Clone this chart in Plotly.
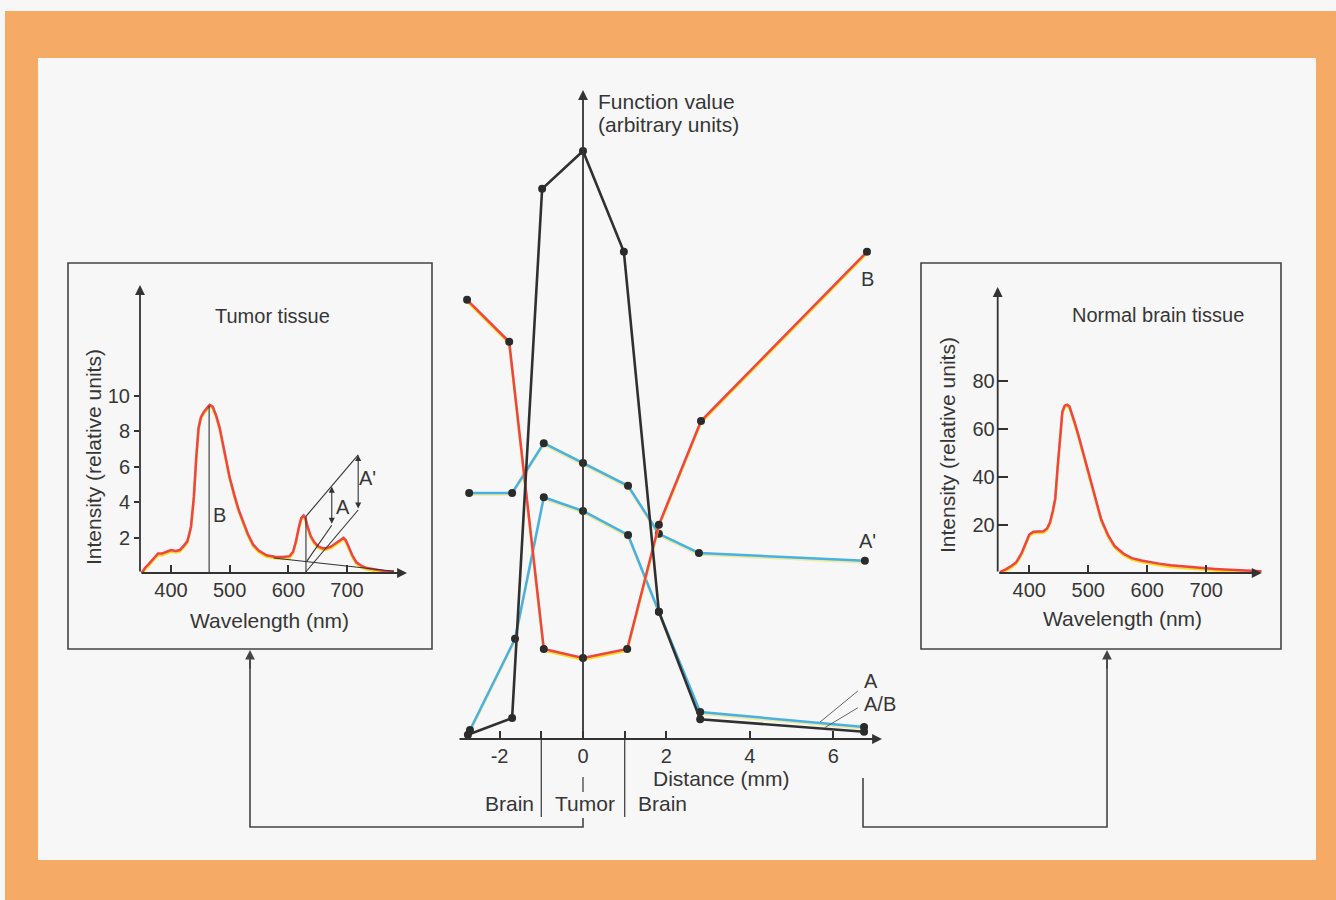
import plotly.graph_objects as go

# ---------------- data ----------------
# centre panel: distance (mm) and function value (arbitrary units)
dist_B = [-2.78, -1.77, -0.94, 0.0, 1.06, 1.82, 2.83, 6.81]
val_B = [73.2, 66.2, 15.0, 13.5, 15.0, 35.7, 53.0, 81.2]

dist_Ap = [-2.73, -1.70, -0.94, 0.0, 1.08, 1.82, 2.78, 6.76]
val_Ap = [41.0, 41.0, 49.3, 46.0, 42.2, 34.2, 31.0, 29.7]

dist_A = [-2.71, -1.63, -0.94, 0.0, 1.08, 1.82, 2.81, 6.74]
val_A = [1.5, 16.7, 40.3, 38.0, 34.0, 21.2, 4.5, 2.0]

dist_AB = [-2.76, -1.70, -0.98, 0.0, 0.98, 1.82, 2.81, 6.74]
val_AB = [0.7, 3.5, 91.7, 98.0, 81.2, 21.2, 3.3, 1.2]

dist_ticks = [-2, -1, 0, 1, 2, 4, 6]
dist_ticktext = ["-2", "", "0", "", "2", "4", "6"]

# tumor tissue spectrum
tumor_nm = [350, 356, 362, 370, 378, 385, 393, 400, 408, 415, 422, 428, 434, 439, 443,
            447, 451, 456, 461, 466, 471, 477, 483, 489, 495, 500, 508, 515, 523, 531,
            540, 550, 563, 577, 591, 602, 608, 613, 618, 622, 626, 629, 633, 638, 644,
            651, 658, 665, 673, 682, 689, 694, 698, 703, 709, 716, 725, 734, 748, 762, 780]
tumor_int = [0.0, 0.3, 0.5, 0.8, 1.1, 1.1, 1.2, 1.3, 1.25, 1.3, 1.55, 1.8, 2.6, 4.3, 6.5,
             8.2, 8.8, 9.1, 9.3, 9.5, 9.4, 8.9, 8.2, 7.2, 6.2, 5.4, 4.4, 3.6, 2.9, 2.2,
             1.6, 1.25, 1.0, 0.92, 0.9, 0.95, 1.2, 1.8, 2.6, 3.1, 3.25, 3.1, 2.6, 2.1, 1.75,
             1.5, 1.4, 1.4, 1.5, 1.7, 1.85, 1.98, 1.85, 1.45, 1.0, 0.6, 0.4, 0.28, 0.2, 0.12, 0.08]
tumor_ticks = [2, 4, 6, 8, 10]

# normal brain tissue spectrum
normal_nm = [350, 360, 370, 378, 387, 394, 400, 407, 415, 424, 430, 435, 440, 444, 448,
             452, 456, 460, 464, 468, 472, 477, 483, 490, 500, 510, 522, 534, 545, 560,
             574, 590, 602, 620, 640, 658, 680, 700, 715, 740, 765, 794]
normal_int = [0.4, 1.5, 3.0, 4.5, 8.3, 12.5, 16.0, 17.2, 17.3, 17.4, 18.5, 21.0, 26.0, 31.0, 44.0,
              57.0, 67.0, 69.6, 70.0, 69.3, 66.5, 62.5, 57.5, 51.0, 41.6, 33.0, 22.2, 15.5, 11.1, 8.0,
              6.2, 5.2, 4.8, 3.9, 3.2, 2.8, 2.2, 1.9, 1.7, 1.3, 1.0, 0.7]
normal_ticks = [20, 40, 60, 80]
wave_ticks = [400, 500, 600, 700]

# annotation geometry in the tumor spectrum (nm, intensity)
B_nm, B_top = 465, 9.45
peak_nm, peak_top = 630, 3.2
A_nm, Ap_nm = 674, 719

# ---------------- layout helpers ----------------
W, H = 1336, 900
FONT = "Liberation Sans, Arial, Helvetica, sans-serif"
TXT = "#363636"
LINE = "#333333"
RED = "#EF4446"
YEL = "#F2DE1A"
CYAN = "#48B0E2"
PALE = "#EEEBA0"


def PX(x):
    return x / W


def PY(y):
    return 1 - y / H


# centre axes mapping (pixels)
CX0, CXS = 583, 41.7
CY0, CYS = 739, 6.0
cx_rng = [(458 - CX0) / CXS, (882 - CX0) / CXS]
cy_rng = [0, (CY0 - 85) / CYS]

# left inset mapping
L_x_rng = [347.2, 802.2]
L_y_rng = [0, (573 - 285) / 17.7]
# right inset mapping
R_x_rng = [346.4, 794.0]
R_y_rng = [0, (573 - 287) / 2.405]

fig = go.Figure()


def shifted(vals, px, scale):
    return [v - px / scale for v in vals]


# ----- centre traces -----
for xs, ys, col, sh in [(dist_Ap, val_Ap, CYAN, PALE), (dist_A, val_A, CYAN, PALE),
                        (dist_B, val_B, RED, YEL)]:
    fig.add_trace(go.Scatter(x=xs, y=shifted(ys, 1.6, CYS), mode="lines",
                             line=dict(color=sh, width=2.5), xaxis="x", yaxis="y",
                             hoverinfo="skip", showlegend=False))
    fig.add_trace(go.Scatter(x=xs, y=ys, mode="lines+markers",
                             line=dict(color=col, width=2.5),
                             marker=dict(color="#2b2b2b", size=8), xaxis="x", yaxis="y",
                             showlegend=False))
fig.add_trace(go.Scatter(x=dist_AB, y=val_AB, mode="lines+markers",
                         line=dict(color="#303030", width=2.6),
                         marker=dict(color="#2b2b2b", size=8), xaxis="x", yaxis="y",
                         showlegend=False))

# ----- inset spectra -----
fig.add_trace(go.Scatter(x=tumor_nm, y=shifted(tumor_int, 1.6, 17.7), mode="lines",
                         line=dict(color=YEL, width=2.5), xaxis="x2", yaxis="y2",
                         hoverinfo="skip", showlegend=False))
fig.add_trace(go.Scatter(x=tumor_nm, y=tumor_int, mode="lines",
                         line=dict(color=RED, width=2.5), xaxis="x2", yaxis="y2",
                         showlegend=False))
fig.add_trace(go.Scatter(x=normal_nm, y=shifted(normal_int, 1.6, 2.405), mode="lines",
                         line=dict(color=YEL, width=2.5), xaxis="x3", yaxis="y3",
                         hoverinfo="skip", showlegend=False))
fig.add_trace(go.Scatter(x=normal_nm, y=normal_int, mode="lines",
                         line=dict(color=RED, width=2.5), xaxis="x3", yaxis="y3",
                         showlegend=False))

tickfont = dict(family=FONT, size=20, color=TXT)
fig.update_layout(
    width=W, height=H, margin=dict(l=0, r=0, t=0, b=0),
    paper_bgcolor="#F7F7F7", plot_bgcolor="rgba(0,0,0,0)",
    xaxis=dict(domain=[PX(458), PX(882)], range=cx_rng, anchor="y", showgrid=False,
               zeroline=False, showline=False, ticks="inside", ticklen=8, tickwidth=1.5,
               tickcolor=LINE, tickvals=dist_ticks, ticktext=dist_ticktext,
               tickfont=tickfont, ticklabelstandoff=3),
    yaxis=dict(domain=[PY(CY0), PY(85)], range=cy_rng, anchor="x", visible=False),
    xaxis2=dict(domain=[PX(140), PX(407)], range=L_x_rng, anchor="y2", showgrid=False,
                zeroline=False, showline=False, ticks="inside", ticklen=8, tickwidth=1.5,
                tickcolor=LINE, tickvals=wave_ticks, tickfont=tickfont, ticklabelstandoff=3),
    yaxis2=dict(domain=[PY(573), PY(285)], range=L_y_rng, anchor="x2", showgrid=False,
                zeroline=False, showline=False, ticks="outside", ticklen=5, tickwidth=1.5,
                tickcolor=LINE, tickvals=tumor_ticks, tickfont=tickfont, ticklabelstandoff=0),
    xaxis3=dict(domain=[PX(997.7), PX(1261.7)], range=R_x_rng, anchor="y3", showgrid=False,
                zeroline=False, showline=False, ticks="inside", ticklen=8, tickwidth=1.5,
                tickcolor=LINE, tickvals=wave_ticks, tickfont=tickfont, ticklabelstandoff=3),
    yaxis3=dict(domain=[PY(573), PY(287)], range=R_y_rng, anchor="x3", showgrid=False,
                zeroline=False, showline=False, ticks="inside", ticklen=10, tickwidth=1.5,
                tickcolor=LINE, tickvals=normal_ticks, tickfont=tickfont, ticklabelstandoff=2),
)

shapes = []
# orange frame and white panel
shapes.append(dict(type="rect", xref="paper", yref="paper", x0=PX(5), x1=PX(1336), y0=PY(900),
                   y1=PY(11), fillcolor="#F5AA66", line=dict(width=0), layer="below"))
shapes.append(dict(type="rect", xref="paper", yref="paper", x0=PX(38), x1=PX(1316), y0=PY(860),
                   y1=PY(58), fillcolor="#F7F7F7", line=dict(width=0), layer="below"))
# inset boxes
for x0, x1 in [(68, 432), (921, 1281)]:
    shapes.append(dict(type="rect", xref="paper", yref="paper", x0=PX(x0), x1=PX(x1),
                       y0=PY(649), y1=PY(263), line=dict(color="#444444", width=1.6),
                       layer="below"))
# connectors
shapes.append(dict(type="path", xref="paper", yref="paper",
                   path=f"M {PX(583)} {PY(818)} L {PX(583)} {PY(827)} L {PX(250)} {PY(827)} L {PX(250)} {PY(660)}",
                   line=dict(color="#444444", width=1.6)))
shapes.append(dict(type="path", xref="paper", yref="paper",
                   path=f"M {PX(863)} {PY(778)} L {PX(863)} {PY(827)} L {PX(1107)} {PY(827)} L {PX(1107)} {PY(660)}",
                   line=dict(color="#444444", width=1.6)))
# region separators at -1 and +1 mm
for d in [-1, 1]:
    xp = CX0 + CXS * d
    shapes.append(dict(type="line", xref="paper", yref="paper", x0=PX(xp), x1=PX(xp),
                       y0=PY(CY0), y1=PY(817), line=dict(color="#444444", width=1.3)))
shapes.append(dict(type="line", xref="paper", yref="paper", x0=PX(583), x1=PX(583),
                   y0=PY(777), y1=PY(792), line=dict(color="#444444", width=1.3)))
# leader lines for A and A/B labels
shapes.append(dict(type="line", xref="x", yref="y", x0=6.59, y0=8.0, x1=5.68, y1=2.8,
                   line=dict(color="#555555", width=0.9)))
shapes.append(dict(type="line", xref="x", yref="y", x0=6.59, y0=5.2, x1=5.80, y1=1.9,
                   line=dict(color="#555555", width=0.9)))
# tumor inset construction lines
thin = dict(color="#333333", width=1.1)
shapes.append(dict(type="line", xref="x2", yref="y2", x0=B_nm, x1=B_nm, y0=0, y1=B_top, line=thin))
shapes.append(dict(type="line", xref="x2", yref="y2", x0=peak_nm, x1=peak_nm, y0=0, y1=peak_top, line=thin))
shapes.append(dict(type="line", xref="x2", yref="y2", x0=peak_nm, y0=peak_top, x1=Ap_nm, y1=6.67, line=thin))
shapes.append(dict(type="line", xref="x2", yref="y2", x0=peak_nm, y0=0.07, x1=Ap_nm, y1=3.56, line=thin))
shapes.append(dict(type="line", xref="x2", yref="y2", x0=631, y0=0.64, x1=A_nm, y1=2.7, line=thin))
shapes.append(dict(type="line", xref="x2", yref="y2", x0=575, y0=0.85, x1=780, y1=0.1, line=thin))
fig.update_layout(shapes=shapes)

ann = []


def axis_arrow(xref, yref, x, y, ax, ay, width=1.8, both=False):
    ann.append(dict(xref=xref, yref=yref, axref=xref, ayref=yref, x=x, y=y, ax=ax, ay=ay,
                    text="", showarrow=True, arrowhead=2, arrowsize=1.1, arrowwidth=width,
                    arrowcolor=LINE, standoff=0, startstandoff=0,
                    arrowside="end+start" if both else "end", startarrowhead=2,
                    startarrowsize=1.1))


# axes with arrow heads
axis_arrow("x", "y", cx_rng[1], 0, cx_rng[0], 0)
axis_arrow("x", "y", 0, (CY0 - 90) / CYS, 0, 0)
axis_arrow("x2", "y2", L_x_rng[1], 0, L_x_rng[0], 0)
axis_arrow("x2", "y2", L_x_rng[0], L_y_rng[1], L_x_rng[0], 0)
axis_arrow("x3", "y3", R_x_rng[1], 0, R_x_rng[0], 0)
axis_arrow("x3", "y3", R_x_rng[0], R_y_rng[1], R_x_rng[0], 0)
# double arrows A and A'
axis_arrow("x2", "y2", A_nm, 4.88, A_nm, 2.7, width=1.1, both=True)
axis_arrow("x2", "y2", Ap_nm, 6.67, Ap_nm, 3.56, width=1.1, both=True)
# connector arrow heads
for xp in [250, 1107]:
    ann.append(dict(xref="paper", yref="paper", x=PX(xp), y=PY(650), ax=0, ay=20, text="",
                    showarrow=True, arrowhead=2, arrowsize=1.2, arrowwidth=1.6,
                    arrowcolor="#444444", standoff=0))


def label(text, x, y, xref="paper", yref="paper", size=21, xanchor="center", angle=0):
    ann.append(dict(text=text, x=x, y=y, xref=xref, yref=yref, showarrow=False,
                    xanchor=xanchor, yanchor="middle", textangle=angle,
                    font=dict(family=FONT, size=size, color=TXT)))


label("Tumor tissue", PX(272), PY(316), size=20)
label("Normal brain tissue", PX(1158), PY(315), size=20)
label("Wavelength (nm)", PX(269), PY(620))
label("Wavelength (nm)", PX(1122), PY(618))
label("Intensity (relative units)", PX(93), PY(457), angle=-90)
label("Intensity (relative units)", PX(947), PY(445), angle=-90)
label("Function value", PX(596), PY(101), xanchor="left")
label("(arbitrary units)", PX(596), PY(125), xanchor="left")
label("Distance (mm)", PX(721), PY(778))
label("Brain", PX(509), PY(803))
label("Tumor", PX(585), PY(803))
label("Brain", PX(662), PY(803))
label("B", 6.83, 76.7, "x", "y", size=20)
label("A'", 6.83, 33.0, "x", "y", size=20)
label("A", 6.9, 9.7, "x", "y", size=20)
label("A/B", 7.12, 5.8, "x", "y", size=20)
label("B", 483.5, 3.3, "x2", "y2", size=20)
label("A", 692.6, 3.75, "x2", "y2", size=20)
label("A'", 735, 5.35, "x2", "y2", size=20)
fig.update_layout(annotations=ann)

fig.write_html("out.html")
